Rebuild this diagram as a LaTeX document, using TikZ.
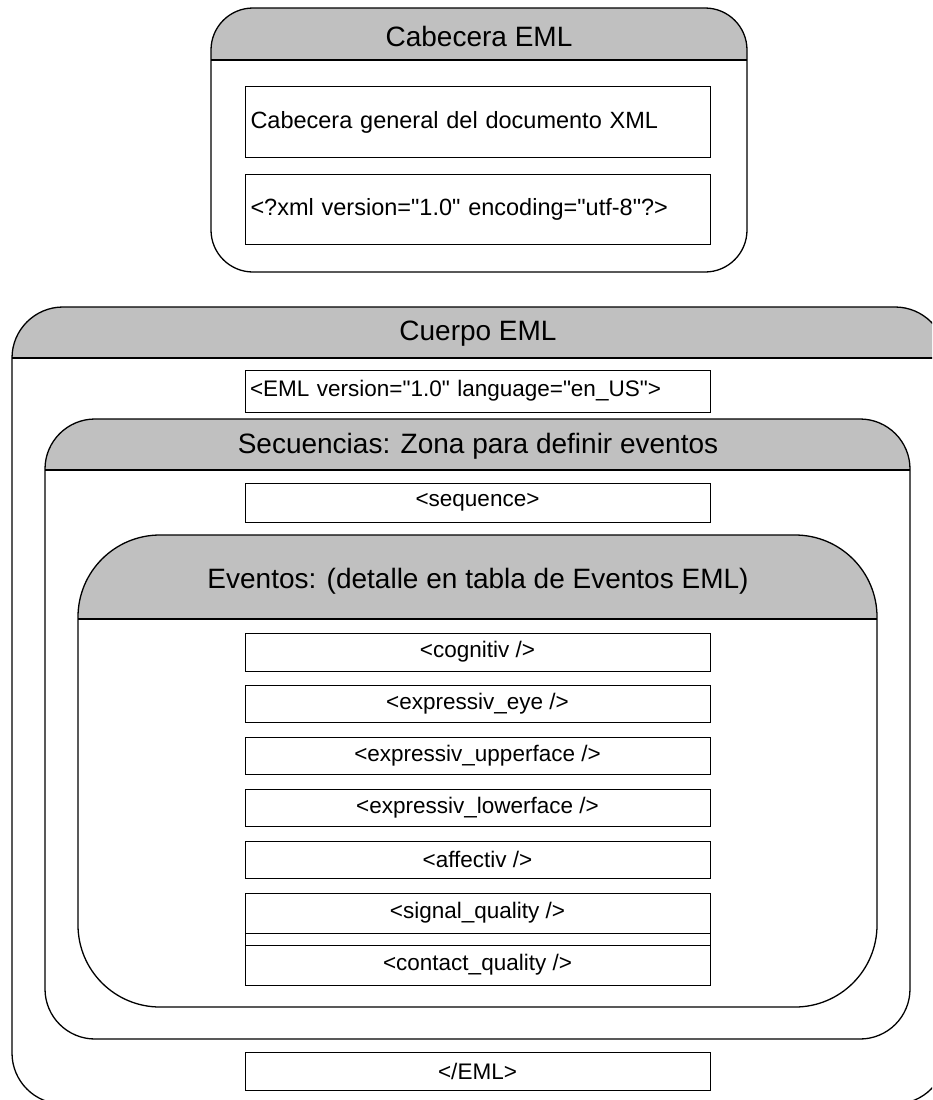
\documentclass[tikz,border=0pt]{standalone}
\usepackage{fontspec}
\setmainfont{Liberation Sans}[Ligatures=TeXOff]
\definecolor{cabgray}{RGB}{192,192,192}

\begin{document}
\begin{tikzpicture}[x=1pt,y=-1pt,
  zone/.style={draw=black,line width=1.3pt},
  title/.style={font=\fontsize{28}{32}\selectfont},
  tag/.style={draw=black,line width=1pt,fill=white,minimum width=465pt,inner sep=0pt,font=\fontsize{22.5}{26}\selectfont},
  tagleft/.style={tag,text width=455pt,align=left,inner xsep=5pt,font=\fontsize{23.5}{27}\selectfont}]
\useasboundingbox (0,0) rectangle (932,1100);
\clip (0,0) rectangle (932,1100);

% Cabecera EML
\fill[white,rounded corners=42pt] (211,8) rectangle (747,272);
\begin{scope}
\clip (211,8) rectangle (747,60);
\fill[cabgray,rounded corners=42pt] (211,8) rectangle (747,272);
\end{scope}
\draw[zone,rounded corners=42pt] (211,8) rectangle (747,272);
\draw[zone] (211,60) -- (747,60);
\node[title] (cabecera) at (479,36) {Cabecera EML};
\node[tagleft,minimum height=71pt] (general) at (478,122) {Cabecera general del documento XML};
\node[tagleft,minimum height=70pt] (xmldecl) at (478,209.5) {<?xml version="1.0" encoding="utf-8"?>};

% Cuerpo EML
\fill[white,rounded corners=51pt] (12,307) rectangle (946,1104);
\begin{scope}
\clip (12,307) rectangle (946,358);
\fill[cabgray,rounded corners=51pt] (12,307) rectangle (946,1104);
\end{scope}
\draw[zone,rounded corners=51pt] (12,307) rectangle (946,1104);
\draw[zone] (12,358) -- (946,358);
\node[title] (cuerpo) at (478,334) {Cuerpo EML};
\node[tagleft,minimum height=42pt,font=\fontsize{22.5}{26}\selectfont] (emlopen) at (477.5,391) {<EML version="1.0" language="en\_US">};

% Secuencias
\fill[white,rounded corners=50pt] (45,419) rectangle (910,1039);
\begin{scope}
\clip (45,419) rectangle (910,470);
\fill[cabgray,rounded corners=50pt] (45,419) rectangle (910,1039);
\end{scope}
\draw[zone,rounded corners=50pt] (45,419) rectangle (910,1039);
\draw[zone] (45,470) -- (910,470);
\node[title] (secuencias) at (478,446.5) {Secuencias: Zona para definir eventos};
\node[tag,minimum height=39pt] (sequence) at (477.5,502.5) {<sequence>};

% Eventos
\fill[white,rounded corners=82pt] (78,535) rectangle (877,1007);
\begin{scope}
\clip (78,535) rectangle (877,619);
\fill[cabgray,rounded corners=82pt] (78,535) rectangle (877,1007);
\end{scope}
\draw[zone,rounded corners=82pt] (78,535) rectangle (877,1007);
\draw[zone] (78,619) -- (877,619);
\node[title] (eventos) at (478,581) {Eventos: (detalle en tabla de Eventos EML)};

% event tags
\node[tag,minimum height=38pt] (cognitiv) at (477.5,652) {<cognitiv />};
\node[tag,minimum height=37pt] (eye) at (477.5,703.5) {<expressiv\_eye />};
\node[tag,minimum height=37pt] (upper) at (477.5,755.5) {<expressiv\_upperface />};
\node[tag,minimum height=37pt] (lower) at (477.5,807.5) {<expressiv\_lowerface />};
\node[tag,minimum height=37pt] (affectiv) at (477.5,859.5) {<affectiv />};
\node[tag,minimum height=40pt] (signal) at (477.5,913) {<signal\_quality />};
\draw[line width=1pt] (245,933) rectangle (710,970);
\node[tag,minimum height=40pt] (contact) at (477.5,965) {<contact\_quality />};

% closing tag
\node[tag,minimum height=38pt] (emlclose) at (477.5,1071) {</EML>};
\end{tikzpicture}
\end{document}
